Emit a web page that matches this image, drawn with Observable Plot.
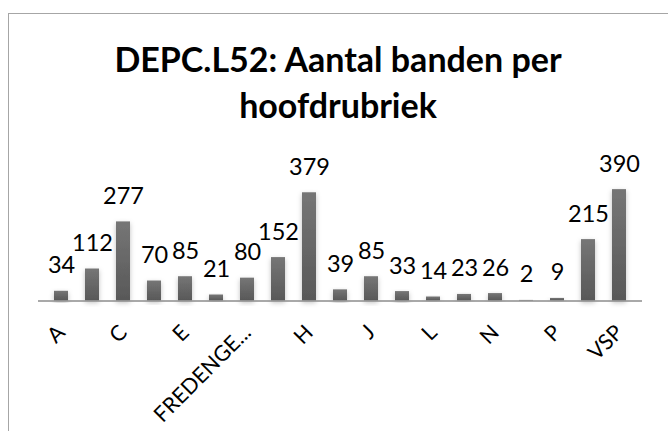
<!DOCTYPE html>
<html>
<head>
<meta charset="utf-8">
<script src="https://cdn.jsdelivr.net/npm/d3@7"></script>
<script src="https://cdn.jsdelivr.net/npm/@observablehq/plot@0.6"></script>
<style>
  html, body { margin: 0; padding: 0; background: #fff; }
  #wrap { position: relative; width: 668px; height: 431px; overflow: hidden; }
  #frame { position: absolute; left: 8px; top: 13px; width: 700px; height: 500px; border: 1.5px solid #a6a6a6; box-sizing: border-box; }
  #title { position: absolute; left: 8px; top: 36px; width: 660px; text-align: center;
           font-family: Lato, "Open Sans", sans-serif; font-weight: bold; font-size: 34px; line-height: 46px; color: #000; }
  #chart { position: absolute; left: 0; top: 0; }
</style>
</head>
<body>
<div id="wrap">
  <div id="frame"></div>
  <div id="chart"></div>
  <div id="title">DEPC.L52: Aantal banden per<br>hoofdrubriek</div>
</div>
<script>
const categories = ["A","B","C","D","E","F","FREDENGE...","G","H","I","J","K","L","M","N","O","P","S","VSP"];
const values = [34,112,277,70,85,21,80,152,379,39,85,33,14,23,26,2,9,215,390];
const tickLabels = ["A","C","E","FREDENGE...","H","J","L","N","P","VSP"];

const data = categories.map((c, i) => ({cat: c, value: values[i]}));

const plot = Plot.plot({
  width: 668,
  height: 431,
  marginLeft: 38,
  marginRight: 26,
  marginTop: 172,
  marginBottom: 130.5,
  style: {fontFamily: "Lato, 'Open Sans', sans-serif", background: "transparent", overflow: "visible"},
  x: {domain: categories, paddingInner: 0.55, paddingOuter: 0.275, axis: null},
  y: {domain: [0, 450], axis: null},
  marks: [
    Plot.barY(data, {x: "cat", y: "value", fill: "url(#barGrad)", className: "bars"}),
    Plot.ruleY([0], {stroke: "#8c8c8c", strokeWidth: 1.5}),
    Plot.text(data, {x: "cat", y: "value", text: d => String(d.value), lineAnchor: "bottom", dy: -18, fontSize: 23.5, fill: "#000"}),
    Plot.axisX({ticks: tickLabels, tickSize: 0, tickPadding: 28, tickRotate: -45, fontSize: 21.5, label: null, fill: "#000"})
  ]
});

const svg = d3.select(plot);
const defs = svg.insert("defs", ":first-child");
const g = defs.append("linearGradient").attr("id", "barGrad").attr("x1", 0).attr("x2", 0).attr("y1", 0).attr("y2", 1);
g.append("stop").attr("offset", "0%").attr("stop-color", "#767676");
g.append("stop").attr("offset", "100%").attr("stop-color", "#585858");
const f = defs.append("filter").attr("id", "barShadow").attr("x", "-50%").attr("y", "-20%").attr("width", "200%").attr("height", "140%");
f.append("feDropShadow").attr("dx", 0).attr("dy", 2).attr("stdDeviation", 2.5).attr("flood-color", "#000").attr("flood-opacity", 0.25);
svg.selectAll(".bars rect").attr("filter", "url(#barShadow)");

document.getElementById("chart").appendChild(plot);
</script>
</body>
</html>
